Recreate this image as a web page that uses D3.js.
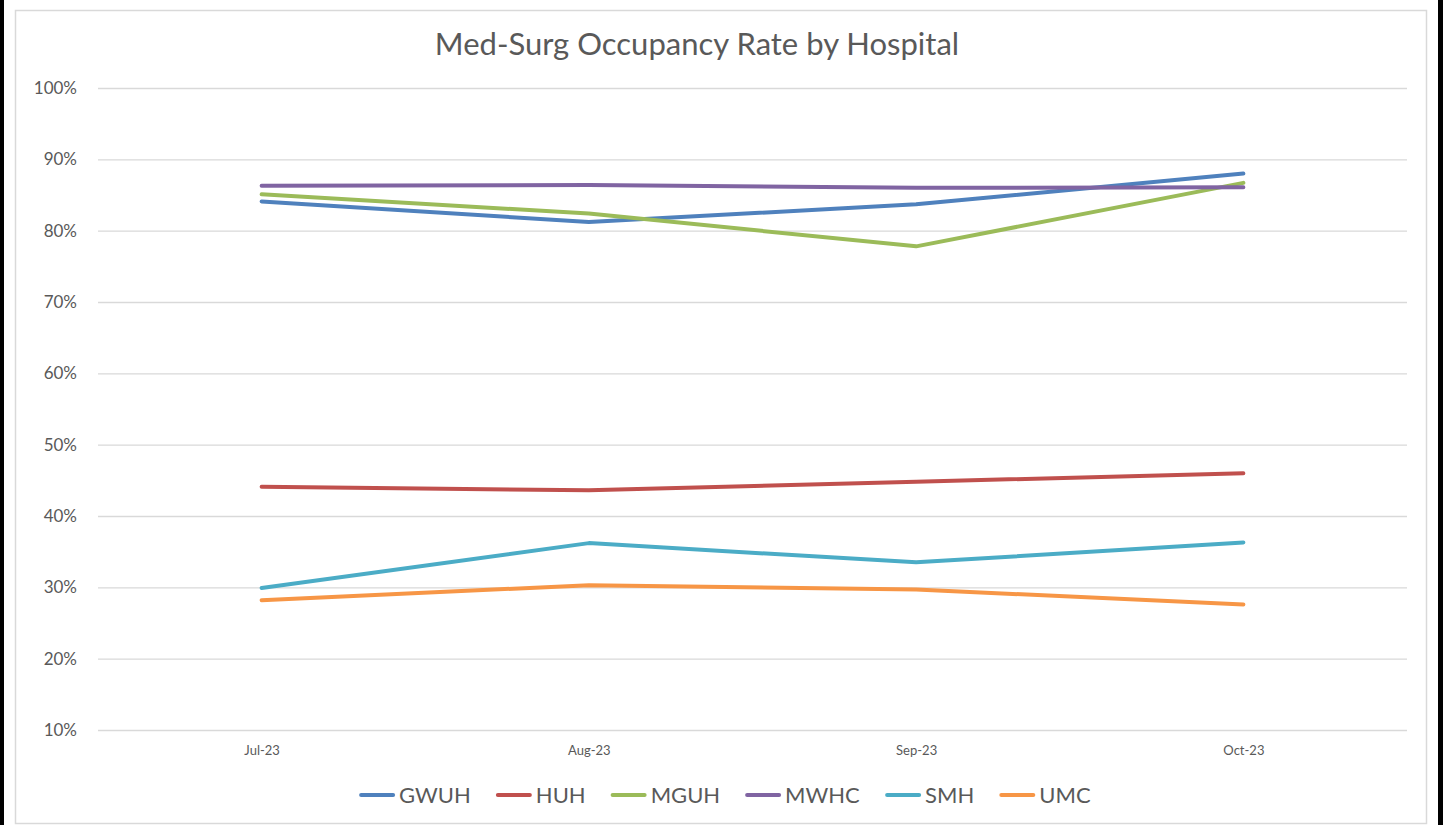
<!DOCTYPE html>
<html>
<head>
<meta charset="utf-8">
<script src="https://cdn.jsdelivr.net/npm/d3@7"></script>
<style>
  html, body { margin: 0; padding: 0; background: #000; }
  svg { display: block; }
</style>
</head>
<body>
<div class="content"></div>
<script>
var months = ['Jul-23', 'Aug-23', 'Sep-23', 'Oct-23'];
var hospitals = ['GWUH', 'HUH', 'MGUH', 'MWHC', 'SMH', 'UMC'];
var colors = ['#4f81bd', '#c0504d', '#9bbb59', '#8064a2', '#4bacc6', '#f79646'];
var gwuh = [84.1, 81.2, 83.7, 88.0];
var huh  = [44.1, 43.6, 44.8, 46.0];
var mguh = [85.1, 82.4, 77.8, 86.7];
var mwhc = [86.3, 86.4, 86.0, 86.1];
var smh  = [29.9, 36.2, 33.5, 36.3];
var umc  = [28.2, 30.3, 29.7, 27.6];
var yTicks = [10, 20, 30, 40, 50, 60, 70, 80, 90, 100];

var seriesValues = [gwuh, huh, mguh, mwhc, smh, umc];

var chart = {
    width: 1443,
    height: 825,
    left: 98,
    right: 1407,
    top: 88,
    bottom: 730,
    font: 'Lato, "Open Sans", sans-serif'
};

window.onload = function() {
    var svg = d3.select('.content').append('svg')
        .attr('width', chart.width)
        .attr('height', chart.height);

    // white page with small black strips at the sides
    svg.append('rect')
        .attr('x', 4).attr('y', 0)
        .attr('width', 1434).attr('height', chart.height)
        .attr('fill', '#fff');
    svg.append('rect')
        .attr('x', 15.5).attr('y', 10.5)
        .attr('width', 1411).attr('height', 813)
        .attr('fill', 'none')
        .attr('stroke', '#d9d9d9')
        .attr('stroke-width', 1.5);

    var xScale = d3.scalePoint()
        .domain(months)
        .range([chart.left, chart.right])
        .padding(0.5);
    var yScale = d3.scaleLinear()
        .domain([10, 100])
        .range([chart.bottom, chart.top]);

    // gridlines + y labels
    var yAxis = d3.axisLeft(yScale)
        .tickValues(yTicks)
        .tickSize(-(chart.right - chart.left))
        .tickPadding(21)
        .tickFormat(function(d) { return d + '%'; });
    var gy = svg.append('g')
        .attr('transform', 'translate(' + chart.left + ',0)')
        .call(yAxis);
    gy.select('.domain').remove();
    gy.selectAll('.tick line')
        .attr('stroke', '#d9d9d9')
        .attr('stroke-width', 1.3);
    gy.selectAll('.tick text')
        .attr('fill', '#595959')
        .style('font-family', chart.font)
        .style('font-size', '17px');

    // x labels
    var xAxis = d3.axisBottom(xScale).tickSize(0).tickPadding(16);
    var gx = svg.append('g')
        .attr('transform', 'translate(0,' + chart.bottom + ')')
        .call(xAxis);
    gx.select('.domain').remove();
    gx.selectAll('.tick text')
        .attr('fill', '#595959')
        .style('font-family', chart.font)
        .style('font-size', '13px');

    // lines
    var line = d3.line()
        .x(function(d, i) { return xScale(months[i]); })
        .y(function(d) { return yScale(d); });
    svg.append('g').selectAll('path')
        .data(seriesValues)
        .enter().append('path')
        .attr('d', line)
        .attr('fill', 'none')
        .attr('stroke', function(d, i) { return colors[i]; })
        .attr('stroke-width', 4)
        .attr('stroke-linecap', 'round')
        .attr('stroke-linejoin', 'round');

    // title
    svg.append('text')
        .attr('x', 697)
        .attr('y', 55)
        .attr('text-anchor', 'middle')
        .attr('fill', '#595959')
        .style('font-family', chart.font)
        .style('font-size', '31px')
        .text('Med-Surg Occupancy Rate by Hospital');

    // legend
    var legend = svg.append('g');
    var items = legend.selectAll('g')
        .data(hospitals)
        .enter().append('g');
    items.append('line')
        .attr('x1', 2).attr('x2', 34)
        .attr('y1', 0).attr('y2', 0)
        .attr('stroke', function(d, i) { return colors[i]; })
        .attr('stroke-width', 4)
        .attr('stroke-linecap', 'round');
    items.append('text')
        .attr('x', 40)
        .attr('y', 8)
        .attr('fill', '#595959')
        .style('font-family', chart.font)
        .style('font-size', '22px')
        .text(function(d) { return d; });
    var gap = 27;
    var xpos = 0;
    items.each(function() {
        var w = this.getBBox().width;
        d3.select(this).attr('transform', 'translate(' + xpos + ',0)');
        xpos += w + gap;
    });
    var total = xpos - gap;
    legend.attr('transform', 'translate(' + (724 - total / 2) + ',795)');
};
</script>
</body>
</html>
